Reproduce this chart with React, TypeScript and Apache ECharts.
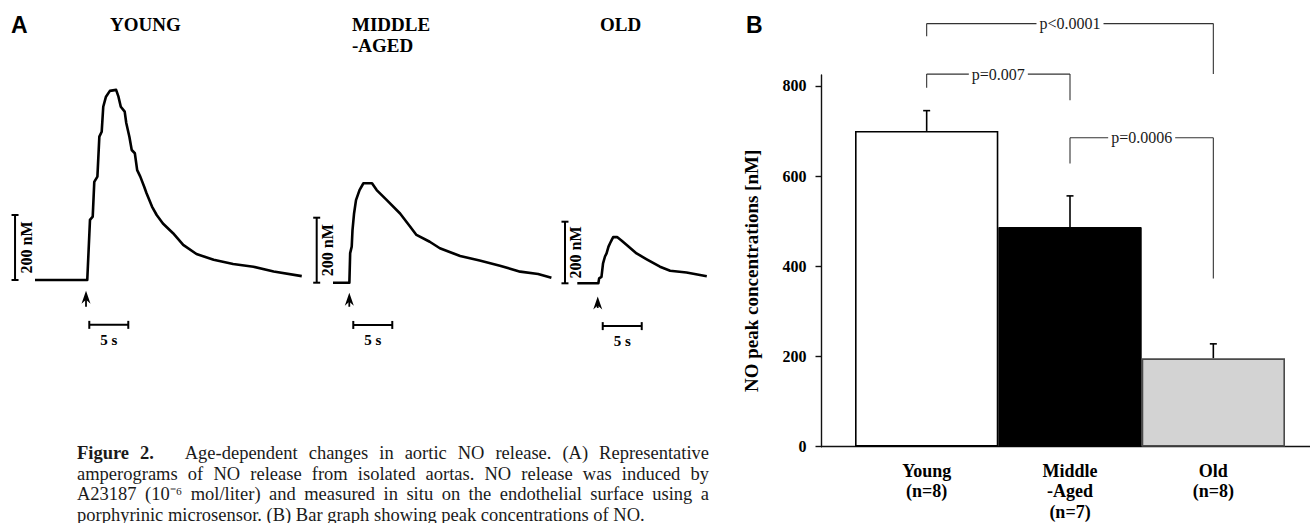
import React, { useEffect, useRef } from 'react';
import * as echarts from 'echarts';

// ---------- DATA ----------
// Panel A: representative amperograms, [time (s), NO (nM)]
const youngTrace: number[][] = [
  [0, 0], [6.7, 0], [7.05, 185], [7.4, 195], [7.6, 302], [8.0, 318], [8.25, 441], [8.55, 456],
  [8.75, 533], [9.1, 564], [9.6, 582], [10.4, 585], [10.7, 564], [11.0, 533], [11.5, 518],
  [11.7, 483], [12.1, 441], [12.4, 400], [12.8, 390], [13.1, 338], [13.5, 318], [14.0, 287],
  [14.3, 267], [15.0, 226], [15.6, 200], [16.4, 174], [17.7, 144], [19.0, 108], [20.7, 80],
  [22.9, 62], [25.4, 49], [28.0, 41], [30.6, 26], [34.2, 12],
];
const middleTrace: number[][] = [
  [0, 0], [2.1, 0], [2.2, 91], [2.4, 111], [2.5, 162], [2.7, 213], [2.95, 254], [3.4, 285],
  [3.9, 306], [5.0, 306], [5.6, 285], [6.9, 254], [8.6, 213], [9.9, 172], [10.7, 147],
  [12.4, 126], [13.7, 106], [16.3, 82], [18.8, 68], [21.4, 52], [24.0, 34], [26.3, 27], [28.0, 15],
];
const oldTrace: number[][] = [
  [0, 0], [2.7, 0], [2.8, 16], [3.1, 21], [3.3, 65], [3.55, 87], [3.75, 97], [4.0, 119],
  [4.2, 130], [4.4, 140], [4.6, 150], [5.1, 150], [5.7, 138], [6.3, 125], [7.6, 97],
  [8.9, 78], [10.6, 54], [11.9, 41], [14.0, 35], [16.6, 23],
];
const traces = [youngTrace, middleTrace, oldTrace];
const panelTitles = ['YOUNG', 'MIDDLE\n-AGED', 'OLD'];
const concBarValue = 200; // nM
const concBarLabel = '200 nM';
const concBarTime = [-2.56, -2.09, -1.58]; // s
const timeBarLength = 5; // s
const timeBarLabel = '5 s';
const timeBarStart = [6.96, 2.6, 3.26]; // s
const timeBarLevel = [-138, -130, -139]; // nM
const stimulusTime = [6.54, 2.09, 2.62]; // s
const arrowTail = [-82, -74, -80]; // nM
const arrowTip = [-33, -31, -43]; // nM

// Panel B: bar graph
const groups = ['Young\n(n=8)', 'Middle\n-Aged\n(n=7)', 'Old\n(n=8)'];
const peakMeans = [700, 487, 196];
const peakSEM = [45, 69, 32];
const yTicks = [0, 200, 400, 600, 800];
const yAxisTitle = 'NO peak concentrations [nM]';
const bracketFrom = [0, 0, 1];
const bracketTo = [2, 1, 2];
const bracketTop = [938, 826, 685];
const bracketLeftEnd = [910, 796, 628];
const bracketRightEnd = [826, 768, 373];
const bracketLabels = ['p<0.0001', 'p=0.007', 'p=0.0006'];

// Caption
const captionLead = 'Figure 2.';
const captionLines = [
  'Age-dependent changes in aortic NO release. (A) Representative',
  'amperograms of NO release from isolated aortas. NO release was induced by',
  'A23187 (10⁻⁶ mol/liter) and measured in situ on the endothelial surface using a',
  'porphyrinic microsensor. (B) Bar graph showing peak concentrations of NO.',
];

// ---------- LAYOUT ----------
const SERIF = '"Liberation Serif", "Times New Roman", serif';
const SANS = '"Liberation Sans", Arial, sans-serif';

const traceLayout = [
  { x0: 35, y0: 280, pxS: 7.8, pxN: 0.325, tMin: -3.5, tMax: 38 },
  { x0: 333, y0: 282.7, pxS: 7.8, pxN: 0.325, tMin: -3.5, tMax: 31 },
  { x0: 577.3, y0: 283.3, pxS: 7.8, pxN: 0.308, tMin: -3.5, tMax: 18 },
];
const C_MIN = -250;
const C_MAX = 700;

const B_TOP = 75;
const B_HEIGHT = 371.7;
const Y_MAX = 824;

function buildCaption(): any[] {
  const ctx = document.createElement('canvas').getContext('2d')!;
  const size = 18.5;
  const reg = `${size}px ${SERIF}`;
  const bold = `bold ${size}px ${SERIF}`;
  const left = 77;
  const right = 709;
  const lineYs = [453, 473.5, 494, 514.5];
  ctx.font = reg;
  const spaceW = ctx.measureText(' ').width;
  const els: any[] = [];
  captionLines.forEach((line, li) => {
    const words: { text: string; bold: boolean; wide?: boolean }[] = [];
    if (li === 0) {
      const lead = captionLead.split(' ');
      lead.forEach((w, i) => words.push({ text: w, bold: true, wide: i === lead.length - 1 }));
    }
    line.split(' ').forEach((w) => words.push({ text: w, bold: false }));
    const widths = words.map((w) => {
      ctx.font = w.bold ? bold : reg;
      return ctx.measureText(w.text).width;
    });
    const total = widths.reduce((a, b) => a + b, 0);
    const gaps = words.slice(1).map((_, i) => (words[i].wide ? 2.8 : 1));
    const gapSum = gaps.reduce((a, b) => a + b, 0);
    const justify = li < captionLines.length - 1;
    const unit = justify ? (right - left - total) / gapSum : spaceW;
    let x = left;
    words.forEach((w, i) => {
      els.push({
        type: 'text',
        x,
        y: lineYs[li],
        style: {
          text: w.text,
          font: w.bold ? bold : reg,
          fill: '#1a1a1a',
          align: 'left',
          verticalAlign: 'middle',
        },
      });
      x += widths[i] + (gaps[i] || 0) * unit;
    });
  });
  return els;
}

function buildOption(): any {
  const grids: any[] = [];
  const xAxes: any[] = [];
  const yAxes: any[] = [];
  const series: any[] = [];

  traceLayout.forEach((L, i) => {
    grids.push({
      left: L.x0 + L.tMin * L.pxS,
      top: L.y0 - C_MAX * L.pxN,
      width: (L.tMax - L.tMin) * L.pxS,
      height: (C_MAX - C_MIN) * L.pxN,
    });
    xAxes.push({ type: 'value', gridIndex: i, min: L.tMin, max: L.tMax, show: false });
    yAxes.push({ type: 'value', gridIndex: i, min: C_MIN, max: C_MAX, show: false });
    series.push({
      type: 'line',
      xAxisIndex: i,
      yAxisIndex: i,
      data: traces[i],
      symbol: 'none',
      clip: false,
      lineStyle: { color: '#000', width: 2.6, join: 'round' },
    });
    series.push({
      type: 'custom',
      xAxisIndex: i,
      yAxisIndex: i,
      data: [[0, 0]],
      clip: false,
      renderItem: (_p: any, api: any) => {
        const k = i;
        const children: any[] = [];
        const stroke = { stroke: '#000', lineWidth: 2 };
        // concentration scale bar
        const a = api.coord([concBarTime[k], 0]);
        const b = api.coord([concBarTime[k], concBarValue]);
        children.push({ type: 'line', shape: { x1: a[0], y1: a[1], x2: b[0], y2: b[1] }, style: stroke });
        children.push({ type: 'line', shape: { x1: a[0] - 3.5, y1: a[1], x2: a[0] + 3.5, y2: a[1] }, style: stroke });
        children.push({ type: 'line', shape: { x1: b[0] - 3.5, y1: b[1], x2: b[0] + 3.5, y2: b[1] }, style: stroke });
        children.push({
          type: 'text',
          x: a[0] + 11,
          y: (a[1] + b[1]) / 2,
          rotation: Math.PI / 2,
          style: {
            text: concBarLabel,
            font: `bold 16px ${SERIF}`,
            fill: '#000',
            align: 'center',
            verticalAlign: 'middle',
          },
        });
        // time scale bar
        const c = api.coord([timeBarStart[k], timeBarLevel[k]]);
        const d = api.coord([timeBarStart[k] + timeBarLength, timeBarLevel[k]]);
        children.push({ type: 'line', shape: { x1: c[0], y1: c[1], x2: d[0], y2: d[1] }, style: stroke });
        children.push({ type: 'line', shape: { x1: c[0], y1: c[1] - 4, x2: c[0], y2: c[1] + 4 }, style: stroke });
        children.push({ type: 'line', shape: { x1: d[0], y1: d[1] - 4, x2: d[0], y2: d[1] + 4 }, style: stroke });
        children.push({
          type: 'text',
          x: (c[0] + d[0]) / 2,
          y: c[1] + 15,
          style: {
            text: timeBarLabel,
            font: `bold 15px ${SERIF}`,
            fill: '#000',
            align: 'center',
            verticalAlign: 'middle',
          },
        });
        // stimulus arrow
        const tail = api.coord([stimulusTime[k], arrowTail[k]]);
        const tip = api.coord([stimulusTime[k], arrowTip[k]]);
        children.push({ type: 'line', shape: { x1: tail[0], y1: tail[1], x2: tip[0], y2: tip[1] + 6 }, style: { stroke: '#000', lineWidth: 1.8 } });
        children.push({
          type: 'polygon',
          shape: {
            points: [
              [tip[0], tip[1]],
              [tip[0] - 4.5, tip[1] + 13],
              [tip[0], tip[1] + 9],
              [tip[0] + 4.5, tip[1] + 13],
            ],
          },
          style: { fill: '#000' },
        });
        return { type: 'group', children };
      },
    });
  });

  // Panel B: axis frame grid (index 3) and bar grid (index 4)
  grids.push({ left: 821.5, top: B_TOP, width: 1310 - 821.5, height: B_HEIGHT });
  grids.push({ left: 855, top: B_TOP, width: 430, height: B_HEIGHT });

  xAxes.push({
    type: 'value',
    gridIndex: 3,
    min: 0,
    max: 1,
    axisLine: { show: true, lineStyle: { color: '#111', width: 1.4 } },
    axisTick: { show: false },
    axisLabel: { show: false },
    splitLine: { show: false },
  });
  yAxes.push({
    type: 'value',
    gridIndex: 3,
    min: 0,
    max: Y_MAX,
    name: yAxisTitle,
    nameLocation: 'middle',
    nameGap: 61,
    nameRotate: 90,
    nameTextStyle: {
      fontFamily: SERIF,
      fontWeight: 'bold',
      fontSize: 19,
      color: '#000',
      padding: [0, 20, 0, 0],
    },
    axisLine: { show: true, lineStyle: { color: '#111', width: 1.4 } },
    axisTick: { show: true, inside: false, length: 6, lineStyle: { color: '#111', width: 1.4 }, customValues: yTicks },
    axisLabel: {
      customValues: yTicks,
      margin: 15,
      fontFamily: SERIF,
      fontWeight: 'bold',
      fontSize: 16,
      color: '#000',
    },
    splitLine: { show: false },
  });

  xAxes.push({
    type: 'category',
    gridIndex: 4,
    data: groups,
    boundaryGap: true,
    axisLine: { show: false },
    axisTick: { show: false },
    axisLabel: {
      interval: 0,
      margin: 14,
      fontFamily: SERIF,
      fontWeight: 'bold',
      fontSize: 18,
      lineHeight: 20.5,
      color: '#000',
    },
  });
  yAxes.push({ type: 'value', gridIndex: 4, min: 0, max: Y_MAX, show: false });

  const barStyles = [
    { color: '#ffffff', borderColor: '#000', borderWidth: 1.6 },
    { color: '#000000', borderColor: '#000', borderWidth: 1 },
    { color: '#d3d3d3', borderColor: '#4a4a4a', borderWidth: 1.6 },
  ];
  series.push({
    type: 'bar',
    xAxisIndex: 4,
    yAxisIndex: 4,
    barCategoryGap: '0%',
    data: peakMeans.map((v, i) => ({ value: v, itemStyle: barStyles[i] })),
  });
  series.push({
    type: 'custom',
    xAxisIndex: 4,
    yAxisIndex: 4,
    clip: false,
    encode: { x: 0, y: 1 },
    data: peakMeans.map((v, i) => [i, v, peakSEM[i]]),
    renderItem: (_p: any, api: any) => {
      const i = api.value(0);
      const m = api.value(1);
      const s = api.value(2);
      const a = api.coord([i, m]);
      const b = api.coord([i, m + s]);
      const st = { stroke: '#000', lineWidth: 1.6 };
      return {
        type: 'group',
        children: [
          { type: 'line', shape: { x1: a[0], y1: a[1], x2: b[0], y2: b[1] }, style: st },
          { type: 'line', shape: { x1: b[0] - 3.5, y1: b[1], x2: b[0] + 3.5, y2: b[1] }, style: st },
        ],
      };
    },
  });
  series.push({
    type: 'custom',
    xAxisIndex: 4,
    yAxisIndex: 4,
    clip: false,
    encode: { x: 0, y: 2 },
    data: bracketLabels.map((_, i) => [bracketFrom[i], bracketTo[i], bracketTop[i], bracketLeftEnd[i], bracketRightEnd[i]]),
    renderItem: (p: any, api: any) => {
      const idx = p.dataIndex;
      const f = api.value(0);
      const t = api.value(1);
      const top = api.value(2);
      const L = api.coord([f, top]);
      const R = api.coord([t, top]);
      const Le = api.coord([f, api.value(3)]);
      const Re = api.coord([t, api.value(4)]);
      const st = { stroke: '#333', lineWidth: 1.1 };
      return {
        type: 'group',
        children: [
          { type: 'line', shape: { x1: L[0], y1: L[1], x2: R[0], y2: R[1] }, style: st },
          { type: 'line', shape: { x1: L[0], y1: L[1], x2: Le[0], y2: Le[1] }, style: st },
          { type: 'line', shape: { x1: R[0], y1: R[1], x2: Re[0], y2: Re[1] }, style: st },
          {
            type: 'text',
            x: (L[0] + R[0]) / 2,
            y: L[1],
            style: {
              text: bracketLabels[idx],
              font: `16px ${SERIF}`,
              fill: '#1a1a1a',
              align: 'center',
              verticalAlign: 'middle',
              backgroundColor: '#fff',
              padding: [1, 3],
            },
          },
        ],
      };
    },
  });

  const titleEls: any[] = [];
  const titleX = [110, 352, 600];
  panelTitles.forEach((t, i) => {
    titleEls.push({
      type: 'text',
      left: titleX[i],
      top: 14,
      style: {
        text: t,
        font: `bold 19px ${SERIF}`,
        fill: '#000',
        lineHeight: 21,
      },
    });
  });

  return {
    animation: false,
    backgroundColor: '#fff',
    grid: grids,
    xAxis: xAxes,
    yAxis: yAxes,
    series,
    graphic: [
      { type: 'text', left: 11, top: 13, style: { text: 'A', font: `bold 23px ${SANS}`, fill: '#000' } },
      { type: 'text', left: 746, top: 13, style: { text: 'B', font: `bold 23px ${SANS}`, fill: '#000' } },
      ...titleEls,
      ...buildCaption(),
    ],
  };
}

export default function App() {
  const ref = useRef<HTMLDivElement>(null);
  useEffect(() => {
    const chart = echarts.init(ref.current!, null, { renderer: 'svg' });
    chart.setOption(buildOption());
    return () => chart.dispose();
  }, []);
  return (
    <div
      ref={ref}
      style={{ position: 'fixed', left: 0, top: 0, width: 1310, height: 523, background: '#fff' }}
    />
  );
}
